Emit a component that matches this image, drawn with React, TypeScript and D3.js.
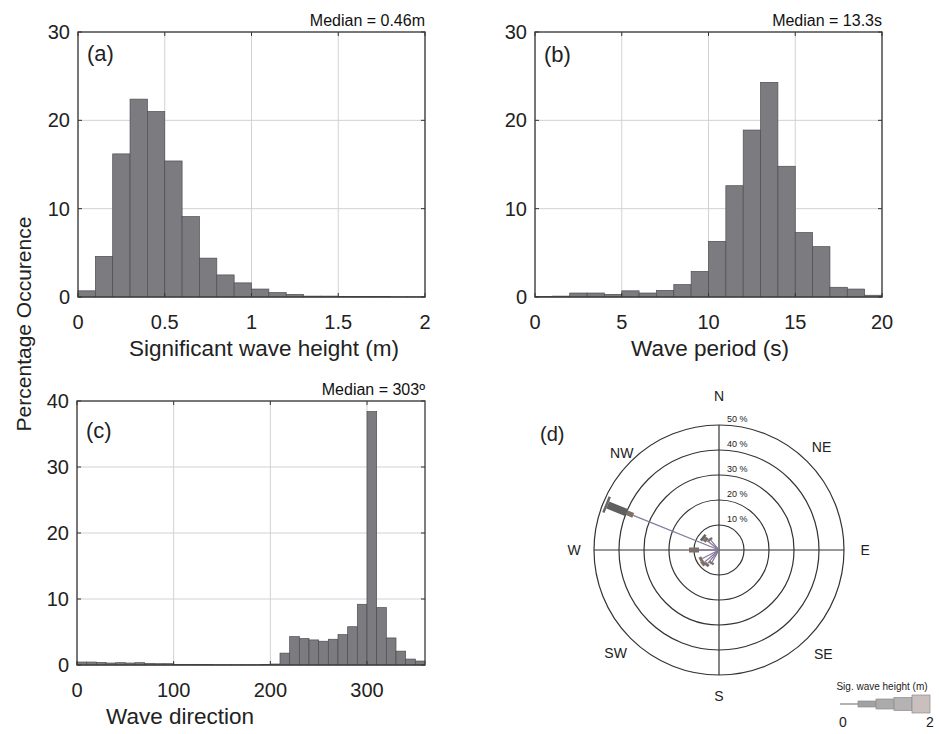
import React from "react";
import * as d3 from "d3";

const FONT = "'Liberation Sans', Arial, Helvetica, sans-serif";

// ---------- data ----------
// (a) significant wave height, bins of 0.1 m from 0 to 2
const hsBinWidth = 0.1;
const hsValues = [0.7, 4.6, 16.2, 22.4, 21.0, 15.4, 9.1, 4.4, 2.5, 1.6, 0.9, 0.5, 0.3, 0.1, 0.1, 0.05, 0.05, 0.04, 0.03, 0.03];
const hsTicks = [0, 0.5, 1, 1.5, 2];
const hsTickLabels = ["0", "0.5", "1", "1.5", "2"];

// (b) wave period, bins of 1 s from 0 to 20
const tpBinWidth = 1;
const tpValues = [0.05, 0.1, 0.45, 0.45, 0.3, 0.7, 0.45, 0.75, 1.4, 2.9, 6.3, 12.6, 18.9, 24.3, 14.8, 7.3, 5.7, 1.1, 0.9, 0.2];
const tpTicks = [0, 5, 10, 15, 20];

// (c) wave direction, bins of 10 deg from 0 to 360
const wdBinWidth = 10;
const wdValues = [0.45, 0.45, 0.4, 0.3, 0.35, 0.3, 0.35, 0.25, 0.2, 0.2, 0.1, 0.1, 0.1, 0.08, 0.05, 0.05, 0.05, 0.05, 0.05, 0.1, 0.15, 1.8, 4.3, 4.0, 3.8, 3.6, 3.9, 4.6, 5.8, 9.2, 38.4, 8.7, 4.1, 2.1, 0.9, 0.6];
const wdTicks = [0, 100, 200, 300];

const yTicks30 = [0, 10, 20, 30];
const yTicks40 = [0, 10, 20, 30, 40];

// (d) wave rose: directions (deg from N) and percentage per height class
const roseDirs = [210, 220, 230, 243, 270, 292, 308, 320];
const roseClass1 = [5.5, 7, 7.5, 7.5, 8, 37, 6, 5];
const roseClass2 = [1, 1.2, 1.5, 1.2, 4, 3, 1.5, 1];
const roseClass3 = [0, 0, 0, 0, 0, 8, 1, 0];
const roseClass4 = [0, 0, 0, 0, 0, 0, 0, 0];
const roseClass5 = [0, 0, 0, 0, 0, 1, 0, 0];
const roseRings = [10, 20, 30, 40, 50];
const compass = [
  { label: "N", deg: 0, r: 61.5 },
  { label: "NE", deg: 45, r: 58 },
  { label: "E", deg: 90, r: 58.5 },
  { label: "SE", deg: 135, r: 59 },
  { label: "S", deg: 180, r: 58.5 },
  { label: "SW", deg: 225, r: 58.5 },
  { label: "W", deg: 270, r: 58 },
  { label: "NW", deg: 315, r: 55 },
];
const classWidths = [1.2, 5, 7.5, 11, 17];
const roseColors = ["#86789a", "#7d7068", "#606060", "#5a5a5a", "#686868"];
const legendWidths = [1.5, 6, 10, 13, 18];
const legendColors = ["#9a9a9a", "#a2a2a2", "#ababab", "#b4b2b2", "#c9bfbf"];

type HistProps = {
  left: number; right: number; top: number; bottom: number;
  xDomain: [number, number]; yDomain: [number, number];
  values: number[]; binWidth: number;
  xTicks: number[]; xTickLabels?: string[]; yTicks: number[];
  xLabel: string; xLabelX: number; panel: string; median: string;
  panelDy: number;
};

function Hist(p: HistProps) {
  const x = d3.scaleLinear().domain(p.xDomain).range([p.left, p.right]);
  const y = d3.scaleLinear().domain(p.yDomain).range([p.bottom, p.top]);
  const tl = 4;
  return (
    <g>
      {p.xTicks.map((t) => (
        <line key={"gx" + t} x1={x(t)} x2={x(t)} y1={p.top} y2={p.bottom} stroke="#d2d2d2" strokeWidth={1} />
      ))}
      {p.yTicks.map((t) => (
        <line key={"gy" + t} x1={p.left} x2={p.right} y1={y(t)} y2={y(t)} stroke="#d2d2d2" strokeWidth={1} />
      ))}
      {p.values.map((v, i) => {
        const x0 = x(p.xDomain[0] + i * p.binWidth);
        const x1 = x(p.xDomain[0] + (i + 1) * p.binWidth);
        return (
          <rect key={"b" + i} x={x0} y={y(v)} width={x1 - x0} height={y(0) - y(v)}
            fill="#7b7b80" stroke="#4e4e52" strokeWidth={0.7} />
        );
      })}
      {p.xTicks.map((t) => (
        <g key={"tx" + t}>
          <line x1={x(t)} x2={x(t)} y1={p.bottom} y2={p.bottom - tl} stroke="#333" />
          <line x1={x(t)} x2={x(t)} y1={p.top} y2={p.top + tl} stroke="#333" />
        </g>
      ))}
      {p.yTicks.map((t) => (
        <g key={"ty" + t}>
          <line x1={p.left} x2={p.left + tl} y1={y(t)} y2={y(t)} stroke="#333" />
          <line x1={p.right} x2={p.right - tl} y1={y(t)} y2={y(t)} stroke="#333" />
        </g>
      ))}
      <rect x={p.left} y={p.top} width={p.right - p.left} height={p.bottom - p.top}
        fill="none" stroke="#3a3a3a" strokeWidth={1.3} />
      {p.xTicks.map((t, i) => (
        <text key={"lx" + t} x={x(t)} y={p.bottom + 32} textAnchor="middle" fontSize={20} fontFamily={FONT} fill="#222">
          {p.xTickLabels ? p.xTickLabels[i] : String(t)}
        </text>
      ))}
      {p.yTicks.map((t) => (
        <text key={"ly" + t} x={p.left - 8} y={y(t) + 7} textAnchor="end" fontSize={20} fontFamily={FONT} fill="#222">
          {String(t)}
        </text>
      ))}
      <text x={p.xLabelX} y={p.bottom + 59} textAnchor="middle" fontSize={22.5} fontFamily={FONT} fill="#222">
        {p.xLabel}
      </text>
      <text x={p.left + 9} y={p.top + p.panelDy} fontSize={22} fontFamily={FONT} fill="#222">{p.panel}</text>
      <text x={p.right} y={p.top - 6} textAnchor="end" fontSize={16} fontFamily={FONT} fill="#111">{p.median}</text>
    </g>
  );
}

function Rose() {
  const cx = 719, cy = 550;
  const r = d3.scaleLinear().domain([0, 50]).range([0, 125]);
  const classes = [roseClass1, roseClass2, roseClass3, roseClass4, roseClass5];
  const pt = (deg: number, rad: number) => {
    const a = (deg * Math.PI) / 180;
    return [cx + rad * Math.sin(a), cy - rad * Math.cos(a)];
  };
  const spokes: JSX.Element[] = [];
  roseDirs.forEach((deg, i) => {
    let cum = 0;
    classes.forEach((arr, k) => {
      const v = arr[i];
      if (v <= 0) return;
      const [x0, y0] = pt(deg, r(cum));
      const [x1, y1] = pt(deg, r(cum + v));
      spokes.push(
        <line key={`s${i}-${k}`} x1={x0} y1={y0} x2={x1} y2={y1}
          stroke={roseColors[k]} strokeWidth={classWidths[k]} strokeLinecap="butt" />
      );
      cum += v;
    });
  });
  // legend
  const lx = d3.scaleLinear().domain([0, 2]).range([840, 930]);
  const legendY = 704;
  return (
    <g>
      {roseRings.map((ring) => (
        <circle key={"c" + ring} cx={cx} cy={cy} r={r(ring)} fill="none" stroke="#333" strokeWidth={1.2} />
      ))}
      <line x1={cx - r(50)} x2={cx + r(50)} y1={cy} y2={cy} stroke="#333" strokeWidth={1.2} />
      <line x1={cx} x2={cx} y1={cy - r(50)} y2={cy + r(50)} stroke="#333" strokeWidth={1.2} />
      {roseRings.map((ring) => (
        <text key={"rl" + ring} x={cx + 8} y={cy - r(ring) - 3.5} fontSize={9} fontFamily={FONT} fill="#222">
          {ring} %
        </text>
      ))}
      {spokes}
      {compass.map((c) => {
        const [x, y] = pt(c.deg, r(c.r));
        return (
          <text key={c.label} x={x} y={y + 5} textAnchor="middle" fontSize={14} fontFamily={FONT} fill="#222">
            {c.label}
          </text>
        );
      })}
      <text x={540} y={441} fontSize={20} fontFamily={FONT} fill="#222">(d)</text>
      {/* legend */}
      <text x={882} y={690} textAnchor="middle" fontSize={10} fontFamily={FONT} fill="#222">Sig. wave height (m)</text>
      {legendWidths.map((w, k) => {
        const x0 = lx(k * 0.4);
        const x1 = lx((k + 1) * 0.4);
        return k === 0 ? (
          <line key={"lg" + k} x1={x0} x2={x1} y1={legendY} y2={legendY} stroke={legendColors[k]} strokeWidth={w} />
        ) : (
          <rect key={"lg" + k} x={x0} y={legendY - w / 2} width={x1 - x0} height={w}
            fill={legendColors[k]} stroke="#8f8a8a" strokeWidth={0.7} />
        );
      })}
      <text x={lx(0) + 3} y={727} textAnchor="middle" fontSize={14} fontFamily={FONT} fill="#222">0</text>
      <text x={lx(2)} y={727} textAnchor="middle" fontSize={14} fontFamily={FONT} fill="#222">2</text>
    </g>
  );
}

export default function App() {
  return (
    <svg width={939} height={734} style={{ position: "absolute", left: 0, top: 0, background: "#fff" }}>
      <rect x={0} y={0} width={939} height={734} fill="#fff" />
      <Hist left={78} right={425} top={32} bottom={297} xDomain={[0, 2]} yDomain={[0, 30]}
        values={hsValues} binWidth={hsBinWidth} xTicks={hsTicks} xTickLabels={hsTickLabels} yTicks={yTicks30}
        xLabel="Significant wave height (m)" xLabelX={264} panel="(a)" median="Median = 0.46m" panelDy={29} />
      <Hist left={535} right={882} top={32} bottom={297} xDomain={[0, 20]} yDomain={[0, 30]}
        values={tpValues} binWidth={tpBinWidth} xTicks={tpTicks} yTicks={yTicks30}
        xLabel="Wave period (s)" xLabelX={710} panel="(b)" median="Median = 13.3s" panelDy={30} />
      <Hist left={77} right={425} top={401} bottom={665} xDomain={[0, 360]} yDomain={[0, 40]}
        values={wdValues} binWidth={wdBinWidth} xTicks={wdTicks} yTicks={yTicks40}
        xLabel="Wave direction" xLabelX={180} panel="(c)" median="Median = 303º" panelDy={37} />
      <text transform="translate(31,324) rotate(-90)" textAnchor="middle" fontSize={21} fontFamily={FONT} fill="#222">
        Percentage Occurence
      </text>
      <Rose />
    </svg>
  );
}
